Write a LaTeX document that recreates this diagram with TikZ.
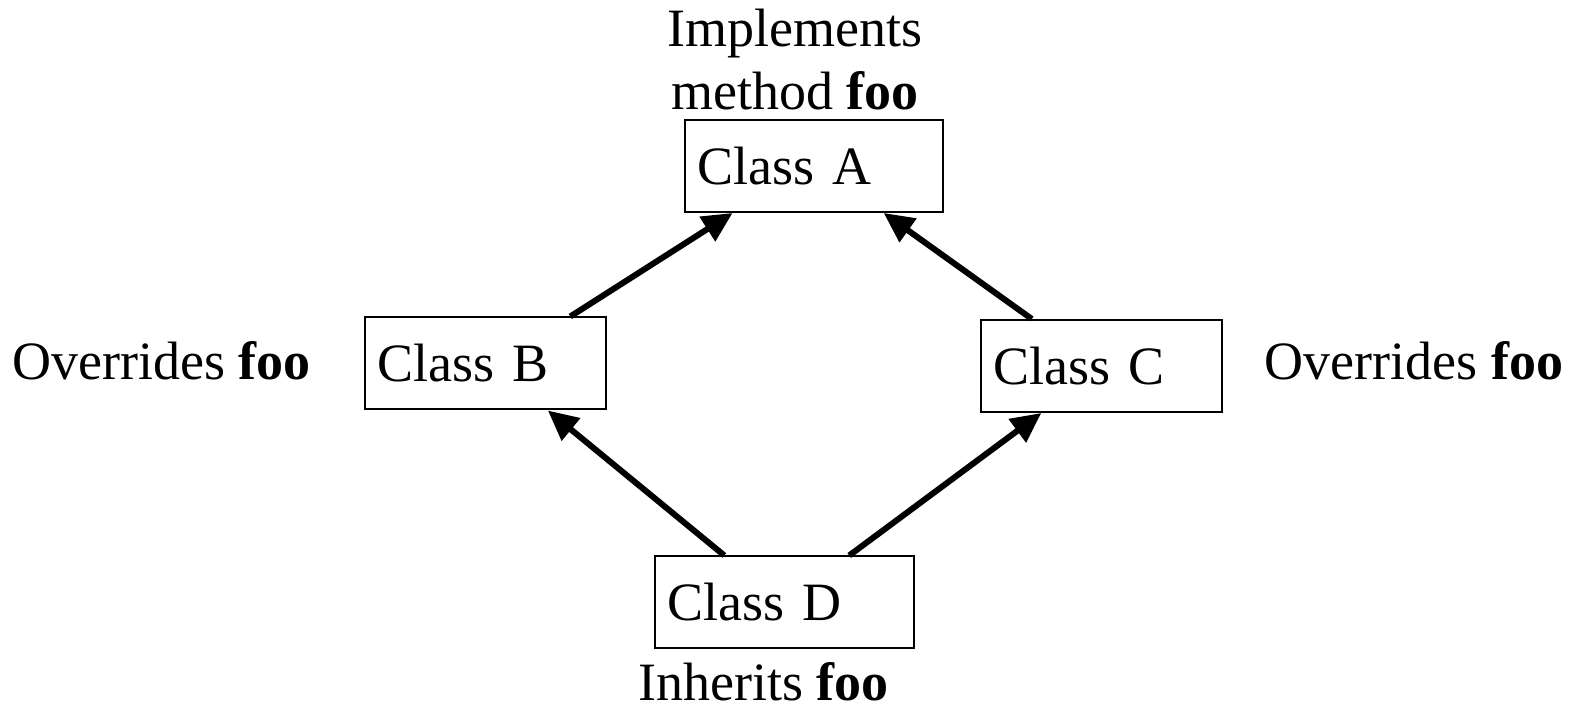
\documentclass[tikz,border=0pt]{standalone}
\usepackage{fontspec}
\setmainfont{Liberation Serif}
\usepackage{xcolor}
\usetikzlibrary{arrows.meta,arrows}
\definecolor{myblack}{gray}{0.0}
\usepackage{tikz}

\begin{document}
\begin{tikzpicture}[x=1pt,y=1pt,
  font=\fontsize{54}{63}\selectfont,
  myclass/.style={draw=myblack, line width=2pt, minimum height=92pt,
    inner sep=12pt, align=left},
  mylabel/.style={inner sep=0pt, anchor=base},
  myarrow/.style={-{Triangle[length=30pt,width=28pt]}, line width=6pt, myblack}]

\useasboundingbox (0,0) rectangle (1571,709);

% the four classes
\node[myclass, text width=234pt] (classA) at (814,543) {Class A};
\node[myclass, text width=217pt] (classB) at (485.5,345.5) {Class B};
\node[myclass, text width=217pt] (classC) at (1101.5,343) {Class C};
\node[myclass, text width=235pt] (classD) at (784.5,106.5) {Class D};

% what each class does with foo
\node[inner sep=0pt, anchor=south, align=center] (implA) at (795,599)
  {Implements\\method \textbf{foo}};
\node[mylabel] (overB) at (161.5,329) {Overrides \textbf{foo}};
\node[mylabel] (overC) at (1414,329) {Overrides \textbf{foo}};
\node[mylabel] (inhD) at (763.5,8) {Inherits \textbf{foo}};

% inheritance arrows
\draw[myarrow] (classB.29.5) -- (classA.210);
\draw[myarrow] (classC.146) -- (classA.326);
\draw[myarrow] (classD.142) -- (classB.323);
\draw[myarrow] (classD.36) -- (classC.218);
\end{tikzpicture}
\end{document}
